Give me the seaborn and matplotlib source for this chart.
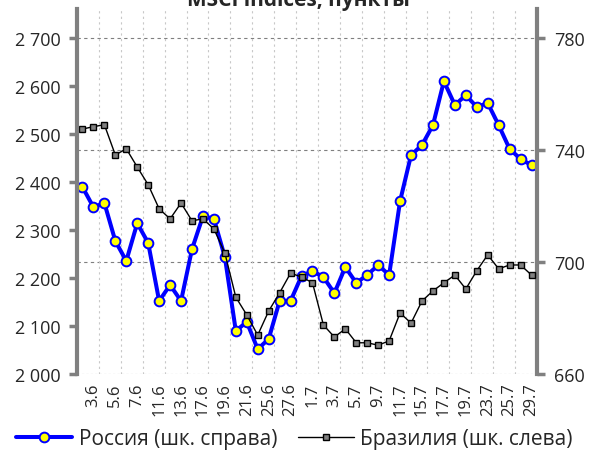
import numpy as np
import pandas as pd
import matplotlib
matplotlib.use('Agg')
import matplotlib.pyplot as plt
import matplotlib.ticker as mticker
import seaborn as sns

# Trading days, 31 May - 29 July
dates = ['31.5', '3.6', '4.6', '5.6', '6.6', '7.6', '10.6', '11.6', '12.6', '13.6',
         '14.6', '17.6', '18.6', '19.6', '20.6', '21.6', '24.6', '25.6', '26.6', '27.6',
         '28.6', '1.7', '2.7', '3.7', '4.7', '5.7', '8.7', '9.7', '10.7', '11.7',
         '12.7', '15.7', '16.7', '17.7', '18.7', '19.7', '22.7', '23.7', '24.7', '25.7',
         '26.7', '29.7']

# MSCI Russia (right axis)
russia = [726.8, 719.6, 721.1, 707.5, 700.4, 713.9, 706.8, 686.1, 691.8, 686.1,
          704.6, 716.4, 715.4, 701.8, 675.4, 678.6, 668.9, 672.5, 686.1, 686.1,
          695.0, 696.8, 694.6, 688.9, 698.2, 692.5, 695.4, 698.9, 695.4, 721.8,
          738.2, 741.8, 748.9, 764.6, 756.1, 759.6, 755.4, 756.8, 748.9, 740.4,
          736.8, 734.6]

# MSCI Brazil (left axis)
brazil = [2510, 2515, 2519, 2456, 2469, 2431, 2394, 2344, 2323, 2356,
          2319, 2323, 2302, 2252, 2160, 2123, 2081, 2131, 2169, 2210,
          2202, 2190, 2102, 2077, 2094, 2065, 2065, 2060, 2069, 2127,
          2106, 2152, 2173, 2190, 2206, 2177, 2215, 2248, 2219, 2227,
          2227, 2206]

df = pd.DataFrame({'pos': np.arange(len(dates)), 'date': dates,
                   'russia': russia, 'brazil': brazil})

sns.set_style('white')
plt.rcParams['font.family'] = ['Open Sans', 'DejaVu Sans']

fig = plt.figure(figsize=(5.89, 4.52), dpi=100)
ax = fig.add_axes([77 / 589, 1 - 375 / 452, 460 / 589, 365 / 452])
ax2 = ax.twinx()

grey = '#808080'

# Russia on the right axis
sns.lineplot(data=df, x='pos', y='russia', ax=ax2, color='#0000ff', linewidth=2.9,
             marker='o', markersize=7, markerfacecolor='#ffff00',
             markeredgecolor='#0000ff', markeredgewidth=1.4,
             label='Россия (шк. справа)', legend=False)

# Brazil on the left axis, drawn on top
sns.lineplot(data=df, x='pos', y='brazil', ax=ax, color='black', linewidth=1.0,
             marker='s', markersize=4.8, markerfacecolor=grey,
             markeredgecolor='black', markeredgewidth=1.0,
             label='Бразилия (шк. слева)', legend=False)

ax.set_zorder(ax2.get_zorder() + 1)
ax.patch.set_visible(False)

ax.set_xlim(-0.5, len(dates) - 0.5)
ax.set_ylim(2000, 2760)
ax2.set_ylim(660, 790.4)

ax.yaxis.set_major_locator(mticker.MultipleLocator(100))
ax.yaxis.set_major_formatter(mticker.FuncFormatter(lambda v, p: f'{v:,.0f}'.replace(',', ' ')))
ax2.set_yticks([660, 700, 740, 780])

ax.set_xticks(df['pos'][1::2])
ax.set_xticklabels(df['date'][1::2], rotation=90, fontsize=12)
ax.tick_params(axis='x', length=0, pad=6)
ax.set_xlabel('')
ax.set_ylabel('')
ax2.set_ylabel('')

# gridlines
for v in [700, 740, 780]:
    ax2.axhline(v, color='#7f7f7f', linestyle=(0, (3, 3)), linewidth=0.8, zorder=0)
ax2.axhline(660, color='#a0a0a0', linestyle=(0, (2, 2)), linewidth=0.8, zorder=0)
for xv in np.arange(1.5, len(dates) - 1, 2):
    ax2.axvline(xv, color='#c8c8c8', linestyle=(0, (2, 3)), linewidth=0.8, zorder=0)

for a in (ax, ax2):
    for s in ('top', 'bottom'):
        a.spines[s].set_visible(False)
ax.spines['right'].set_visible(False)
ax2.spines['left'].set_visible(False)
ax.spines['left'].set_color(grey)
ax.spines['left'].set_linewidth(3.0)
ax2.spines['right'].set_color(grey)
ax2.spines['right'].set_linewidth(3.0)

ax.tick_params(axis='y', left=True, length=6, width=2.5, color=grey,
               labelsize=13, pad=6)
ax2.tick_params(axis='y', right=True, length=6, width=2.5, color=grey,
                labelsize=13, pad=6)

fig.text(0.506, 1 - 6 / 452, 'MSCI indices, пункты', ha='center', va='baseline',
         fontsize=15, fontweight='bold')

h1, l1 = ax2.get_legend_handles_labels()
h2, l2 = ax.get_legend_handles_labels()
fig.legend(h1 + h2, l1 + l2, loc='center', bbox_to_anchor=(0.5, 1 - 440 / 452),
           ncol=2, frameon=False, fontsize=15, handlelength=2.7,
           columnspacing=1.0, handletextpad=0.3, borderaxespad=0)

fig.savefig('out.png', dpi=100)
